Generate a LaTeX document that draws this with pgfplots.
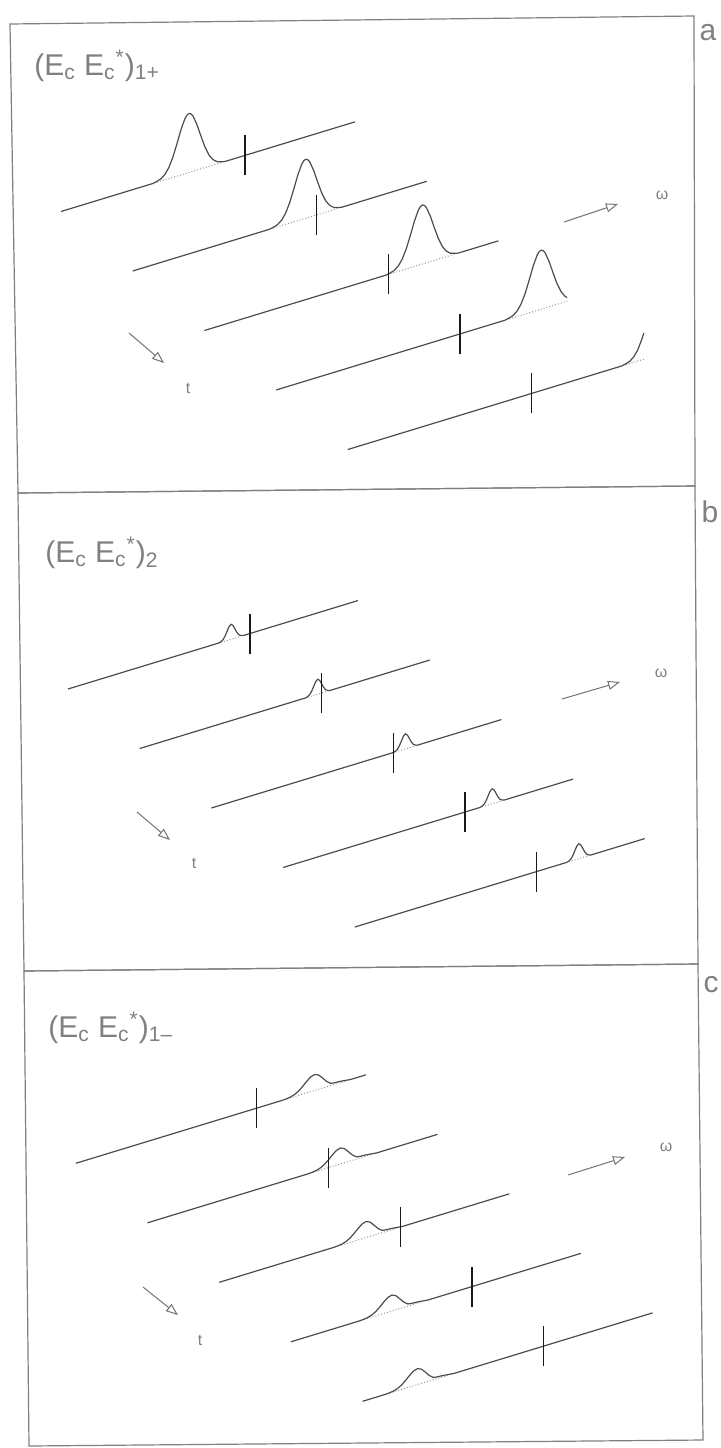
\documentclass[border=0pt]{standalone}
\usepackage{fontspec}
\setmainfont{Liberation Sans}
\usepackage{pgfplots}
\pgfplotsset{compat=1.18}
\usetikzlibrary{arrows.meta}

% one waterfall panel: u along the trace (px), line index, height (px)
\pgfplotsset{
  panel/.style={
    x={(0.5pt,0.1525pt)}, y={(35.85pt,-29.75pt)}, z={(0pt,0.5pt)},
    xmin=0, xmax=300, ymin=0, ymax=4, zmin=-25, zmax=65,
    hide axis, clip=false, anchor=south west,
  },
  wline/.style={black!70, line width=0.6pt},
  wbase/.style={black!40, densely dotted, line width=0.5pt},
  wtick/.style={black!90, line width=0.65pt},
}

\begin{document}
\begin{tikzpicture}

% ---------------- panel a
\begin{axis}[panel, at={(0pt,0pt)}]
\coordinate (Oa) at (axis cs:0,0,0);
\addplot3[wbase] coordinates {(96,0,0) (160,0,0)};
\addplot3[wbase] coordinates {(141,1,0) (205,1,0)};
\addplot3[wbase] coordinates {(186,2,0) (250,2,0)};
\addplot3[wbase] coordinates {(233,3,0) (291,3,0)};
\addplot3[wbase] coordinates {(278,4,0) (296,4,0)};
\addplot3[wline] coordinates {(0,0,0) (92,0,0) (96,0,0.9) (100,0,2.3) (104,0,5.5) (108,0,11.3) (112,0,20.5) (116,0,32.5) (120,0,45.3) (124,0,55.2) (126,0,58.0) (128,0,59) (130,0,58.0) (132,0,55.2) (136,0,45.3) (140,0,32.5) (144,0,20.5) (148,0,11.3) (152,0,5.5) (156,0,2.3) (160,0,0.9) (164,0,0) (294,0,0)};
\addplot3[wline] coordinates {(0,1,0) (137,1,0) (141,1,0.9) (145,1,2.3) (149,1,5.5) (153,1,11.3) (157,1,20.5) (161,1,32.5) (165,1,45.3) (169,1,55.2) (171,1,58.0) (173,1,59) (175,1,58.0) (177,1,55.2) (181,1,45.3) (185,1,32.5) (189,1,20.5) (193,1,11.3) (197,1,5.5) (201,1,2.3) (205,1,0.9) (209,1,0) (294,1,0)};
\addplot3[wline] coordinates {(0,2,0) (182,2,0) (186,2,0.9) (190,2,2.3) (194,2,5.5) (198,2,11.3) (202,2,20.5) (206,2,32.5) (210,2,45.3) (214,2,55.2) (216,2,58.0) (218,2,59) (220,2,58.0) (222,2,55.2) (226,2,45.3) (230,2,32.5) (234,2,20.5) (238,2,11.3) (242,2,5.5) (246,2,2.3) (250,2,0.9) (254,2,0) (294,2,0)};
\addplot3[wline] coordinates {(0,3,0) (229,3,0) (233,3,0.9) (237,3,2.3) (241,3,5.5) (245,3,11.3) (249,3,20.5) (253,3,32.5) (257,3,45.3) (261,3,55.2) (263,3,58.0) (265,3,59) (267,3,58.0) (269,3,55.2) (273,3,45.3) (277,3,32.5) (281,3,20.5) (285,3,11.3) (289,3,5.5) (291,3,3.6)};
\addplot3[wline] coordinates {(0,4,0) (274,4,0) (278,4,0.9) (282,4,2.3) (286,4,5.5) (290,4,11.3) (294,4,20.5) (296,4,26.2)};
\addplot3[wtick] coordinates {(184,0,-20) (184,0,20)};
\addplot3[wtick] coordinates {(184,1,-20) (184,1,20)};
\addplot3[wtick] coordinates {(184,2,-20) (184,2,20)};
\addplot3[wtick] coordinates {(184,3,-20) (184,3,20)};
\addplot3[wtick] coordinates {(184,4,-20) (184,4,20)};
\end{axis}

% ---------------- panel b
\begin{axis}[panel, at={(3.5pt,-238.75pt)}]
\addplot3[wbase] coordinates {(153,0,0) (173,0,0)};
\addplot3[wbase] coordinates {(168,1,0) (188,1,0)};
\addplot3[wbase] coordinates {(184,2,0) (204,2,0)};
\addplot3[wbase] coordinates {(199,3,0) (219,3,0)};
\addplot3[wbase] coordinates {(214,4,0) (234,4,0)};
\addplot3[wline] coordinates {(0,0,0) (151,0,0) (153,0,0.7) (155,0,2.0) (157,0,4.9) (159,0,9.1) (161,0,13.2) (163,0,15) (165,0,13.2) (167,0,9.1) (169,0,4.9) (171,0,2.0) (173,0,0.7) (175,0,0) (290,0,0)};
\addplot3[wline] coordinates {(0,1,0) (166,1,0) (168,1,0.7) (170,1,2.0) (172,1,4.9) (174,1,9.1) (176,1,13.2) (178,1,15) (180,1,13.2) (182,1,9.1) (184,1,4.9) (186,1,2.0) (188,1,0.7) (190,1,0) (290,1,0)};
\addplot3[wline] coordinates {(0,2,0) (182,2,0) (184,2,0.7) (186,2,2.0) (188,2,4.9) (190,2,9.1) (192,2,13.2) (194,2,15) (196,2,13.2) (198,2,9.1) (200,2,4.9) (202,2,2.0) (204,2,0.7) (206,2,0) (290,2,0)};
\addplot3[wline] coordinates {(0,3,0) (197,3,0) (199,3,0.7) (201,3,2.0) (203,3,4.9) (205,3,9.1) (207,3,13.2) (209,3,15) (211,3,13.2) (213,3,9.1) (215,3,4.9) (217,3,2.0) (219,3,0.7) (221,3,0) (290,3,0)};
\addplot3[wline] coordinates {(0,4,0) (212,4,0) (214,4,0.7) (216,4,2.0) (218,4,4.9) (220,4,9.1) (222,4,13.2) (224,4,15) (226,4,13.2) (228,4,9.1) (230,4,4.9) (232,4,2.0) (234,4,0.7) (236,4,0) (290,4,0)};
\addplot3[wtick] coordinates {(182,0,-20) (182,0,20)};
\addplot3[wtick] coordinates {(182,1,-20) (182,1,20)};
\addplot3[wtick] coordinates {(182,2,-20) (182,2,20)};
\addplot3[wtick] coordinates {(182,3,-20) (182,3,20)};
\addplot3[wtick] coordinates {(182,4,-20) (182,4,20)};
\end{axis}

% ---------------- panel c
\begin{axis}[panel, at={(7.4pt,-475.9pt)}]
\addplot3[wbase] coordinates {(211,0,0) (271,0,0)};
\addplot3[wbase] coordinates {(165,1,0) (225,1,0)};
\addplot3[wbase] coordinates {(119,2,0) (179,2,0)};
\addplot3[wbase] coordinates {(73,3,0) (133,3,0)};
\addplot3[wbase] coordinates {(27,4,0) (87,4,0)};
\addplot3[wline] coordinates {(0,0,0) (207,0,0) (211,0,0.3) (215,0,0.9) (219,0,2.2) (223,0,4.5) (227,0,7.8) (231,0,11.6) (235,0,14.8) (239,0,16) (243,0,14.1) (247,0,9.7) (251,0,5.2) (255,0,2.2) (259,0,1.6) (263,0,1.4) (267,0,1.0) (271,0,0.5) (275,0,0) (290,0,0)};
\addplot3[wline] coordinates {(0,1,0) (161,1,0) (165,1,0.3) (169,1,0.9) (173,1,2.2) (177,1,4.5) (181,1,7.8) (185,1,11.6) (189,1,14.8) (193,1,16) (197,1,14.1) (201,1,9.7) (205,1,5.2) (209,1,2.2) (213,1,1.6) (217,1,1.4) (221,1,1.0) (225,1,0.5) (229,1,0) (290,1,0)};
\addplot3[wline] coordinates {(0,2,0) (115,2,0) (119,2,0.3) (123,2,0.9) (127,2,2.2) (131,2,4.5) (135,2,7.8) (139,2,11.6) (143,2,14.8) (147,2,16) (151,2,14.1) (155,2,9.7) (159,2,5.2) (163,2,2.2) (167,2,1.6) (171,2,1.4) (175,2,1.0) (179,2,0.5) (183,2,0) (290,2,0)};
\addplot3[wline] coordinates {(0,3,0) (69,3,0) (73,3,0.3) (77,3,0.9) (81,3,2.2) (85,3,4.5) (89,3,7.8) (93,3,11.6) (97,3,14.8) (101,3,16) (105,3,14.1) (109,3,9.7) (113,3,5.2) (117,3,2.2) (121,3,1.6) (125,3,1.4) (129,3,1.0) (133,3,0.5) (137,3,0) (290,3,0)};
\addplot3[wline] coordinates {(0,4,0) (23,4,0) (27,4,0.3) (31,4,0.9) (35,4,2.2) (39,4,4.5) (43,4,7.8) (47,4,11.6) (51,4,14.8) (55,4,16) (59,4,14.1) (63,4,9.7) (67,4,5.2) (71,4,2.2) (75,4,1.6) (79,4,1.4) (83,4,1.0) (87,4,0.5) (91,4,0) (290,4,0)};
\addplot3[wtick] coordinates {(181,0,-20) (181,0,20)};
\addplot3[wtick] coordinates {(181,1,-20) (181,1,20)};
\addplot3[wtick] coordinates {(181,2,-20) (181,2,20)};
\addplot3[wtick] coordinates {(181,3,-20) (181,3,20)};
\addplot3[wtick] coordinates {(181,4,-20) (181,4,20)};
\end{axis}

% frames, labels and direction arrows, in page pixels
\begin{scope}[shift={(Oa)}, xshift=-30.5pt, yshift=105.75pt, x=0.5pt, y=-0.5pt,
  arr/.style={black!55, line width=0.5pt, -{Triangle[open, length=6pt, width=4.5pt]}},
  txt/.style={text=black!50, font=\fontsize{15}{18}\selectfont, inner sep=0pt},
  sml/.style={text=black!50, font=\fontsize{8}{9}\selectfont, inner sep=0pt}]
\path (0,0) rectangle (720,1448);
\draw[black!50, line width=0.6pt] (10,24) -- (694,16) -- (695,486) -- (18,493) -- cycle;
\draw[black!50, line width=0.6pt] (18,493) -- (695,486) -- (698,964) -- (24,971) -- cycle;
\draw[black!50, line width=0.6pt] (24,971) -- (698,964) -- (703,1440) -- (29,1446) -- cycle;

\node[txt, anchor=west] at (34,66) {(E\textsubscript{c} E\textsubscript{c}\textsuperscript{*})\textsubscript{1+}};
\node[txt, anchor=west] at (45,553) {(E\textsubscript{c} E\textsubscript{c}\textsuperscript{*})\textsubscript{2}};
\node[txt, anchor=west] at (48,1028) {(E\textsubscript{c} E\textsubscript{c}\textsuperscript{*})\textsubscript{1–}};
\node[txt] at (708,33) {a};
\node[txt] at (710,512) {b};
\node[txt] at (711,985) {c};

\draw[arr] (564,222) -- (618,204);
\draw[arr] (129,333) -- (164,363);
\node[sml] at (662,195) {ω};
\node[sml] at (188,388) {t};
\draw[arr] (562,699) -- (620,682);
\draw[arr] (137,812) -- (170,840);
\node[sml] at (661,673) {ω};
\node[sml] at (194,863) {t};
\draw[arr] (568,1175) -- (625,1157);
\draw[arr] (143,1287) -- (178,1315);
\node[sml] at (666,1147) {ω};
\node[sml] at (200,1340) {t};
\end{scope}
\end{tikzpicture}
\end{document}
